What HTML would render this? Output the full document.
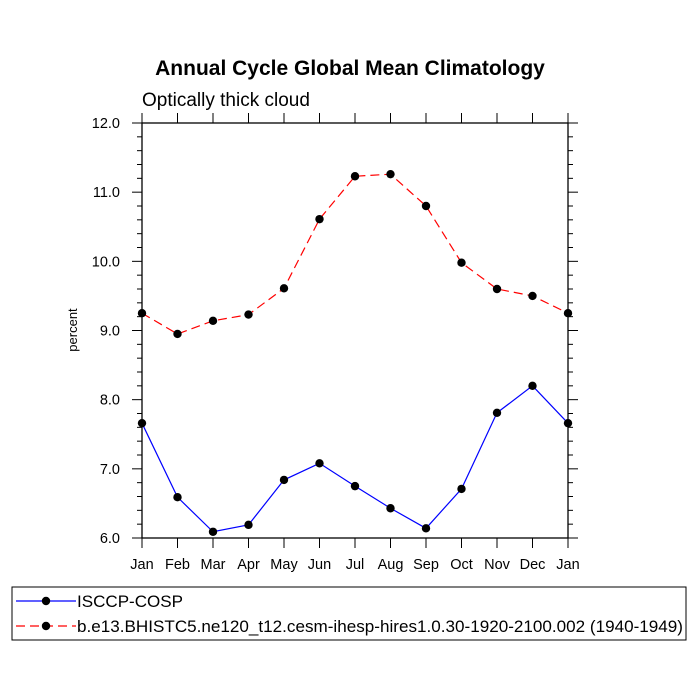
<!DOCTYPE html>
<html><head><meta charset="utf-8"><style>body{margin:0;background:#fff}svg{display:block;font-family:"Liberation Sans",sans-serif}</style></head>
<body>
<svg id="c" width="700" height="700" xmlns="http://www.w3.org/2000/svg"></svg>
<script>
const months=["Jan","Feb","Mar","Apr","May","Jun","Jul","Aug","Sep","Oct","Nov","Dec","Jan"];
const isccp=[7.66,6.59,6.09,6.19,6.84,7.08,6.75,6.43,6.14,6.71,7.81,8.20,7.66];
const model=[9.25,8.95,9.14,9.23,9.61,10.61,11.23,11.26,10.80,9.98,9.60,9.50,9.25];
const yTicks=[6.0,7.0,8.0,9.0,10.0,11.0,12.0];
const L=142,R=568,T=123,B=538,ymin=6,ymax=12;
const xs=i=>L+i*(R-L)/(months.length-1);
const ys=v=>B-(v-ymin)/(ymax-ymin)*(B-T);
const svg=document.getElementById('c');
function add(tag,attrs,text){const e=document.createElementNS('http://www.w3.org/2000/svg',tag);for(const k in attrs)e.setAttribute(k,attrs[k]);if(text!==undefined)e.textContent=text;svg.appendChild(e);return e;}
let e;
e=add('text',{x:350,y:75,'text-anchor':'middle','font-size':21,'font-weight':'bold'},'Annual Cycle Global Mean Climatology');


e=add('text',{x:142,y:106,'font-size':19},'Optically thick cloud');


e=add('text',{x:0,y:0,'font-size':13,'text-anchor':'middle',transform:'translate(77,330) rotate(-90)'},'percent');


e=add('rect',{x:L,y:T,width:R-L,height:B-T,fill:'none',stroke:'#000','stroke-width':1.3});


for(let v=ymin;v<=ymax+1e-6;v+=0.2){
  const major=Math.abs(v-Math.round(v))<1e-6;const len=major?10:5;const y=ys(v);
  e=add('line',{x1:L-len,x2:L,y1:y,y2:y,stroke:'#000'});
  
  
  e=add('line',{x1:R,x2:R+len,y1:y,y2:y,stroke:'#000'});
  
  
}
yTicks.forEach(v=>{e=add('text',{x:120,y:ys(v)+5,'text-anchor':'end','font-size':14.5},v.toFixed(1));
  
  });
months.forEach((m,i)=>{const x=xs(i);
  e=add('line',{x1:x,x2:x,y1:B,y2:B+10,stroke:'#000'});
  
  
  e=add('line',{x1:x,x2:x,y1:T-10,y2:T,stroke:'#000'});
  
  
  e=add('text',{x:x,y:B+31,'text-anchor':'middle','font-size':14.5},m);
  
  });
function series(vals,color,dash,name){
  e=add('polyline',{points:vals.map((v,i)=>xs(i)+','+ys(v)).join(' '),fill:'none',stroke:color,'stroke-width':1.2,'stroke-dasharray':dash});
  
  
  vals.forEach((v,i)=>{e=add('circle',{cx:xs(i),cy:ys(v),r:4.2,fill:'#000'});
    
    });
}
series(isccp,'#0000ff','none','isccp-cosp');
series(model,'#ff0000','9,5','model-run');
e=add('rect',{x:12,y:587,width:674,height:53,fill:'none',stroke:'#000'});


[[601,'#0000ff','none','ISCCP-COSP',106],[626,'#ff0000','9,5','b.e13.BHISTC5.ne120_t12.cesm-ihesp-hires1.0.30-1920-2100.002 (1940-1949)',606]].forEach(([y,c,d,t,w])=>{
  e=add('line',{x1:16,x2:76,y1:y,y2:y,stroke:c,'stroke-dasharray':d,'stroke-width':1.2});
  
  
  e=add('circle',{cx:46,cy:y,r:4.2,fill:'#000'});
  
  
  e=add('text',{x:77,y:y+6,'font-size':17,textLength:w,lengthAdjust:'spacingAndGlyphs'},t);
  
  
});
</script>
</body></html>
